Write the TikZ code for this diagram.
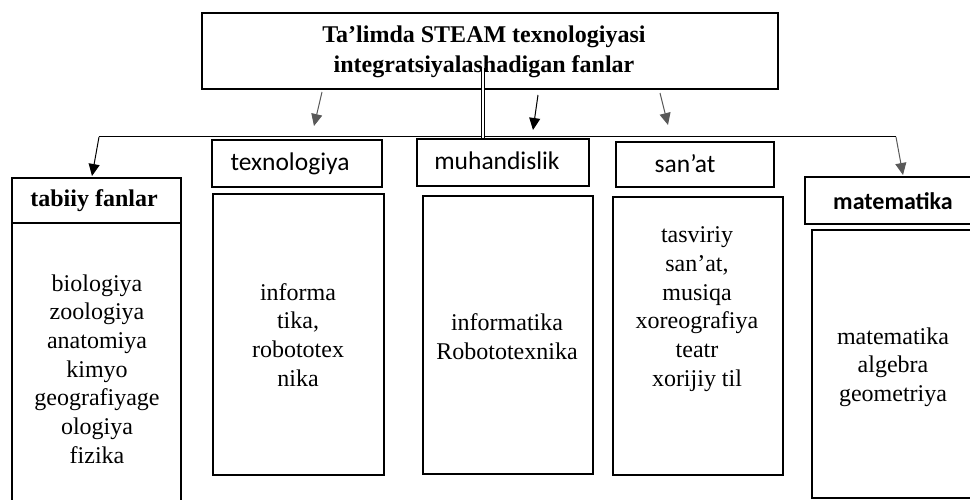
\documentclass[tikz,border=0pt]{standalone}
\usepackage{fontspec}
\setmainfont{Liberation Serif}
\newfontfamily\calibri{Carlito}
\usetikzlibrary{arrows.meta}
\definecolor{arrgray}{HTML}{595959}
\tikzset{
  box/.style={draw=black, line width=1.8pt, inner sep=0pt, fill=white},
  serif24/.style={font=\fontsize{24}{28.7}\selectfont, align=center, inner sep=0pt},
  sans/.style={font=\calibri\fontsize{25.5}{30}\selectfont, inner sep=0pt},
  sansbold/.style={font=\calibri\bfseries\fontsize{24}{29}\selectfont, inner sep=0pt},
  conn/.style={line width=1pt, draw=black},
  blackarr/.style={conn, -{Triangle[length=12pt,width=11pt]}},
  grayarr/.style={line width=1pt, draw=arrgray, -{Triangle[length=12pt,width=11pt]}, arrgray},
}
\begin{document}
\begin{tikzpicture}[x=1pt,y=-1pt]
\useasboundingbox (0,0) rectangle (970,500);
% title
\node[box, minimum width=576pt, minimum height=76pt] (title) at (490,51) {};
\node[serif24, font=\bfseries\fontsize{24}{29.5}\selectfont] (titletext) at (484,52) {Ta’limda STEAM texnologiyasi\\integratsiyalashadigan fanlar};

% header and body boxes
\node[box, minimum width=169pt, minimum height=45pt] (tabh) at (96.5,200.5) {};
\node[box, minimum width=169pt, minimum height=292pt] (tabb) at (96.5,369) {};
\node[box, minimum width=170pt, minimum height=47pt] (texh) at (297,163.5) {};
\node[box, minimum width=171pt, minimum height=281pt] (texb) at (298.5,334.5) {};
\node[box, minimum width=172pt, minimum height=47pt] (muhh) at (503,162.5) {};
\node[box, minimum width=170pt, minimum height=278pt] (muhb) at (508,335) {};
\node[box, minimum width=158pt, minimum height=45pt] (sanh) at (695,164.5) {};
\node[box, minimum width=170pt, minimum height=278pt] (sanb) at (698,336) {};
\node[box, minimum width=185pt, minimum height=47pt] (math) at (897.5,200.5) {};
\node[box, minimum width=178pt, minimum height=268pt] (matb) at (901,364) {};

% header texts
\node[serif24, font=\bfseries\fontsize{24}{28.7}\selectfont] (tabht) at (94,201) {tabiiy fanlar};
\node[sans] (texht) at (290,164) {texnologiya};
\node[sans] (muhht) at (497,161) {muhandislik};
\node[sans] (sanht) at (685,164) {san’at};
\node[sansbold] (matht) at (893,201) {matematika};

% body texts
\node[serif24] (tabbt) at (97,369) {biologiya\\zoologiya\\anatomiya\\kimyo\\geografiyage\\ologiya\\fizika};
\node[serif24] (texbt) at (298,335) {informa\\tika,\\robototex\\nika};
\node[serif24] (muhbt) at (507,337) {informatika\\Robototexnika};
\node[serif24] (sanbt) at (697,309) {tasviriy\\san’at,\\musiqa\\xoreografiya\\teatr\\xorijiy til};
\node[serif24] (matbt) at (893,367) {matematika\\algebra\\geometriya};

% connector coordinates
\coordinate (hl) at (99,137);
\coordinate (hr) at (896,137);
\coordinate (dtop) at (483,68);
\coordinate (dbot) at (483,138);
\coordinate (g1s) at (322,92);
\coordinate (g1e) at (314,126);
\coordinate (b2s) at (538,95);
\coordinate (b2e) at (533,130);
\coordinate (g3s) at (660,93);
\coordinate (g3e) at (668,125);
\coordinate (tabin) at (92,176);
\coordinate (matin) at (903,175);

% connectors
\draw[conn] (hl) -- (hr);
\draw[blackarr] (hl) -- (tabin);
\draw[grayarr] (hr) -- (matin);
\draw[grayarr] (g1s) -- (g1e);
\draw[blackarr] (b2s) -- (b2e);
\draw[grayarr] (g3s) -- (g3e);
\draw[line width=1.1pt, double=white, double distance=2pt] (dtop) -- (dbot);
\end{tikzpicture}
\end{document}
